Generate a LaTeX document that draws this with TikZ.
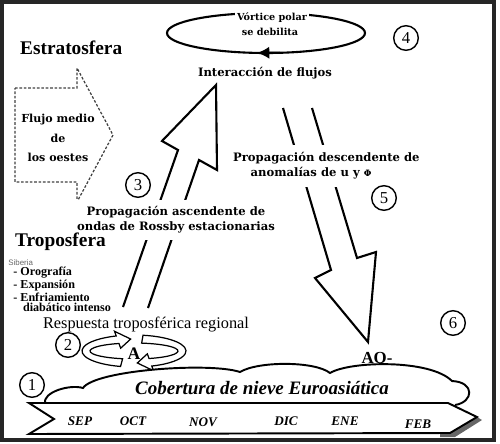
\documentclass[tikz,border=0pt]{standalone}
\usepackage{fontspec}
\setmainfont{Liberation Serif}
\setsansfont{Liberation Sans}
\newfontfamily\anchafont{DejaVu Serif}
\usetikzlibrary{arrows.meta}

\tikzset{
  capa/.style={font=\bfseries\fontsize{11}{13}\selectfont},
  rotulo/.style={font=\anchafont\bfseries\fontsize{6.6}{8.5}\selectfont, align=center},
  mes/.style={font=\bfseries\itshape\fontsize{7.5}{9}\selectfont},
  paso/.style={circle, draw, line width=0.8pt, minimum size=14pt, inner sep=0pt, font=\fontsize{9.5}{10}\selectfont},
  flecha/.style={line width=1.2pt, line join=miter},
  banda/.style={fill=white, draw, line width=0.7pt, line join=miter},
}

\begin{document}
\begin{tikzpicture}[x=0.02cm, y=-0.02cm]
        \useasboundingbox (0,0) rectangle (500,443);
        % Marco
        \draw[line width=2pt, black!85] (2,2) rectangle (494,440);

        % Flujo medio de los oestes
        \draw[line width=0.7pt, dash pattern=on 1.5pt off 1pt, black!75]
            (15,88) -- (77,88) -- (77,68) -- (113,135) -- (77,202) -- (77,182) -- (15,182) -- cycle;
        \node[rotulo, font=\anchafont\bfseries\fontsize{6.3}{11}\selectfont] (oestes) at (58,138) {Flujo medio\\de\\los oestes};

        % Vortice polar
        \draw[line width=1.2pt] (266,33) ellipse[x radius=99, y radius=20];
        \draw[line width=1.2pt, -{Latex[length=7pt, width=7pt]}] (280,52.6) -- (257,52.9);
        \node[font=\anchafont\bfseries\fontsize{5.5}{6}\selectfont, fill=white, inner sep=1pt] (vortice) at (272,18) {Vórtice polar};
        \node[font=\anchafont\bfseries\fontsize{5.5}{6}\selectfont, inner sep=1pt] (debilita) at (270,32) {se debilita};
        \node[rotulo] (interaccion) at (265,73) {Interacción de flujos};

        % Flechas de propagacion
        \draw[flecha] (123,307) -- (178,150) -- (162,141) -- (216,85) -- (217,170) -- (199,160) -- (148,308);
        \draw[flecha] (283,108) -- (331,270) -- (315,278) -- (368,342) -- (376,252) -- (357,258) -- (312,108);
        \node[rotulo, fill=white, inner xsep=1pt, inner ysep=4pt] (ascendente) at (176,220)
            {Propagación ascendente de\\ondas de Rossby estacionarias};
        \node[rotulo, align=left, anchor=west, fill=white, inner xsep=1pt, inner ysep=4.5pt] (descendente) at (231,166)
            {Propagación descendente de\\\hspace*{10pt}anomalías de u y {\fontsize{5}{6}\selectfont Φ}};

        % Capas
        \node[capa, anchor=west] (estrato) at (14,48) {Estratosfera};
        \node[capa, anchor=west] (tropo) at (9,242) {Troposfera};

        % Siberia
        \node[anchor=west, font=\sffamily\fontsize{4.5}{5}\selectfont, text=black!60, inner sep=0pt] (siberia) at (8,263) {Siberia};
        \node[anchor=north west, align=left, font=\bfseries\fontsize{6.9}{5.7}\selectfont, inner sep=0pt] (factores) at (13,267)
            {- Orografía\\- Expansión\\- Enfriamiento\\\hspace*{5.5pt}diabático intenso};
        \node[font=\fontsize{9.3}{11}\selectfont, inner sep=0pt] (respuesta) at (146,325) {Respuesta troposférica regional};

        % Anticiclon
        \begin{scope}[shift={(134,351)}]
            \draw[banda] (105:52 and 16) arc[start angle=105, end angle=250, x radius=52, y radius=16]
                -- (250:57 and 21) -- (266:48 and 12) -- (250:39 and 3) -- (250:44 and 8)
                arc[start angle=250, end angle=105, x radius=44, y radius=8] -- cycle;
            \draw[banda] (280:52 and 16) arc[start angle=280, end angle=430, x radius=52, y radius=16]
                -- (430:57 and 21) -- (446:48 and 12) -- (430:39 and 3) -- (430:44 and 8)
                arc[start angle=430, end angle=280, x radius=44, y radius=8] -- cycle;
        \end{scope}
        \node[font=\bfseries\fontsize{10}{12}\selectfont] (anticiclon) at (134,354) {A};
        \node[font=\bfseries\fontsize{9.6}{11}\selectfont] (ao) at (377,358) {AO-};

        % Nube
        \draw[line width=1.1pt, fill=white] (45,404) .. controls (42,392) and (70,384) .. (83,388)
            .. controls (95,370) and (210,362) .. (240,372)
            .. controls (258,361) and (315,361) .. (330,373)
            .. controls (350,361) and (430,359) .. (452,381)
            .. controls (475,382) and (474,402) .. (455,405);

        % Cinta de meses
        \fill[black!60] (477,417) -- (482,420) -- (455,437) -- (440,437) -- (440,433) -- (450,433) -- cycle;
        \draw[line width=1.1pt, fill=white] (29,403) -- (448,403) -- (477,417) -- (450,433) -- (29,434) -- (54,419) -- cycle;
        \node[font=\bfseries\itshape\fontsize{10.8}{12}\selectfont] (nieve) at (262,388) {Cobertura de nieve Euroasiática};
        \foreach \m/\x/\y in {SEP/80/421, OCT/133/421, NOV/203/422, DIC/286/421, ENE/345/421, FEB/418/424}
            \node[mes] (\m) at (\x,\y) {\m};

        % Pasos
        \node[paso] (p1) at (32,385) {1};
        \node[paso] (p2) at (68,345) {2};
        \node[paso] (p3) at (138,185) {3};
        \node[paso] (p4) at (406,38) {4};
        \node[paso] (p5) at (384,198) {5};
        \node[paso] (p6) at (453,323) {6};
    \end{tikzpicture}
\end{document}
